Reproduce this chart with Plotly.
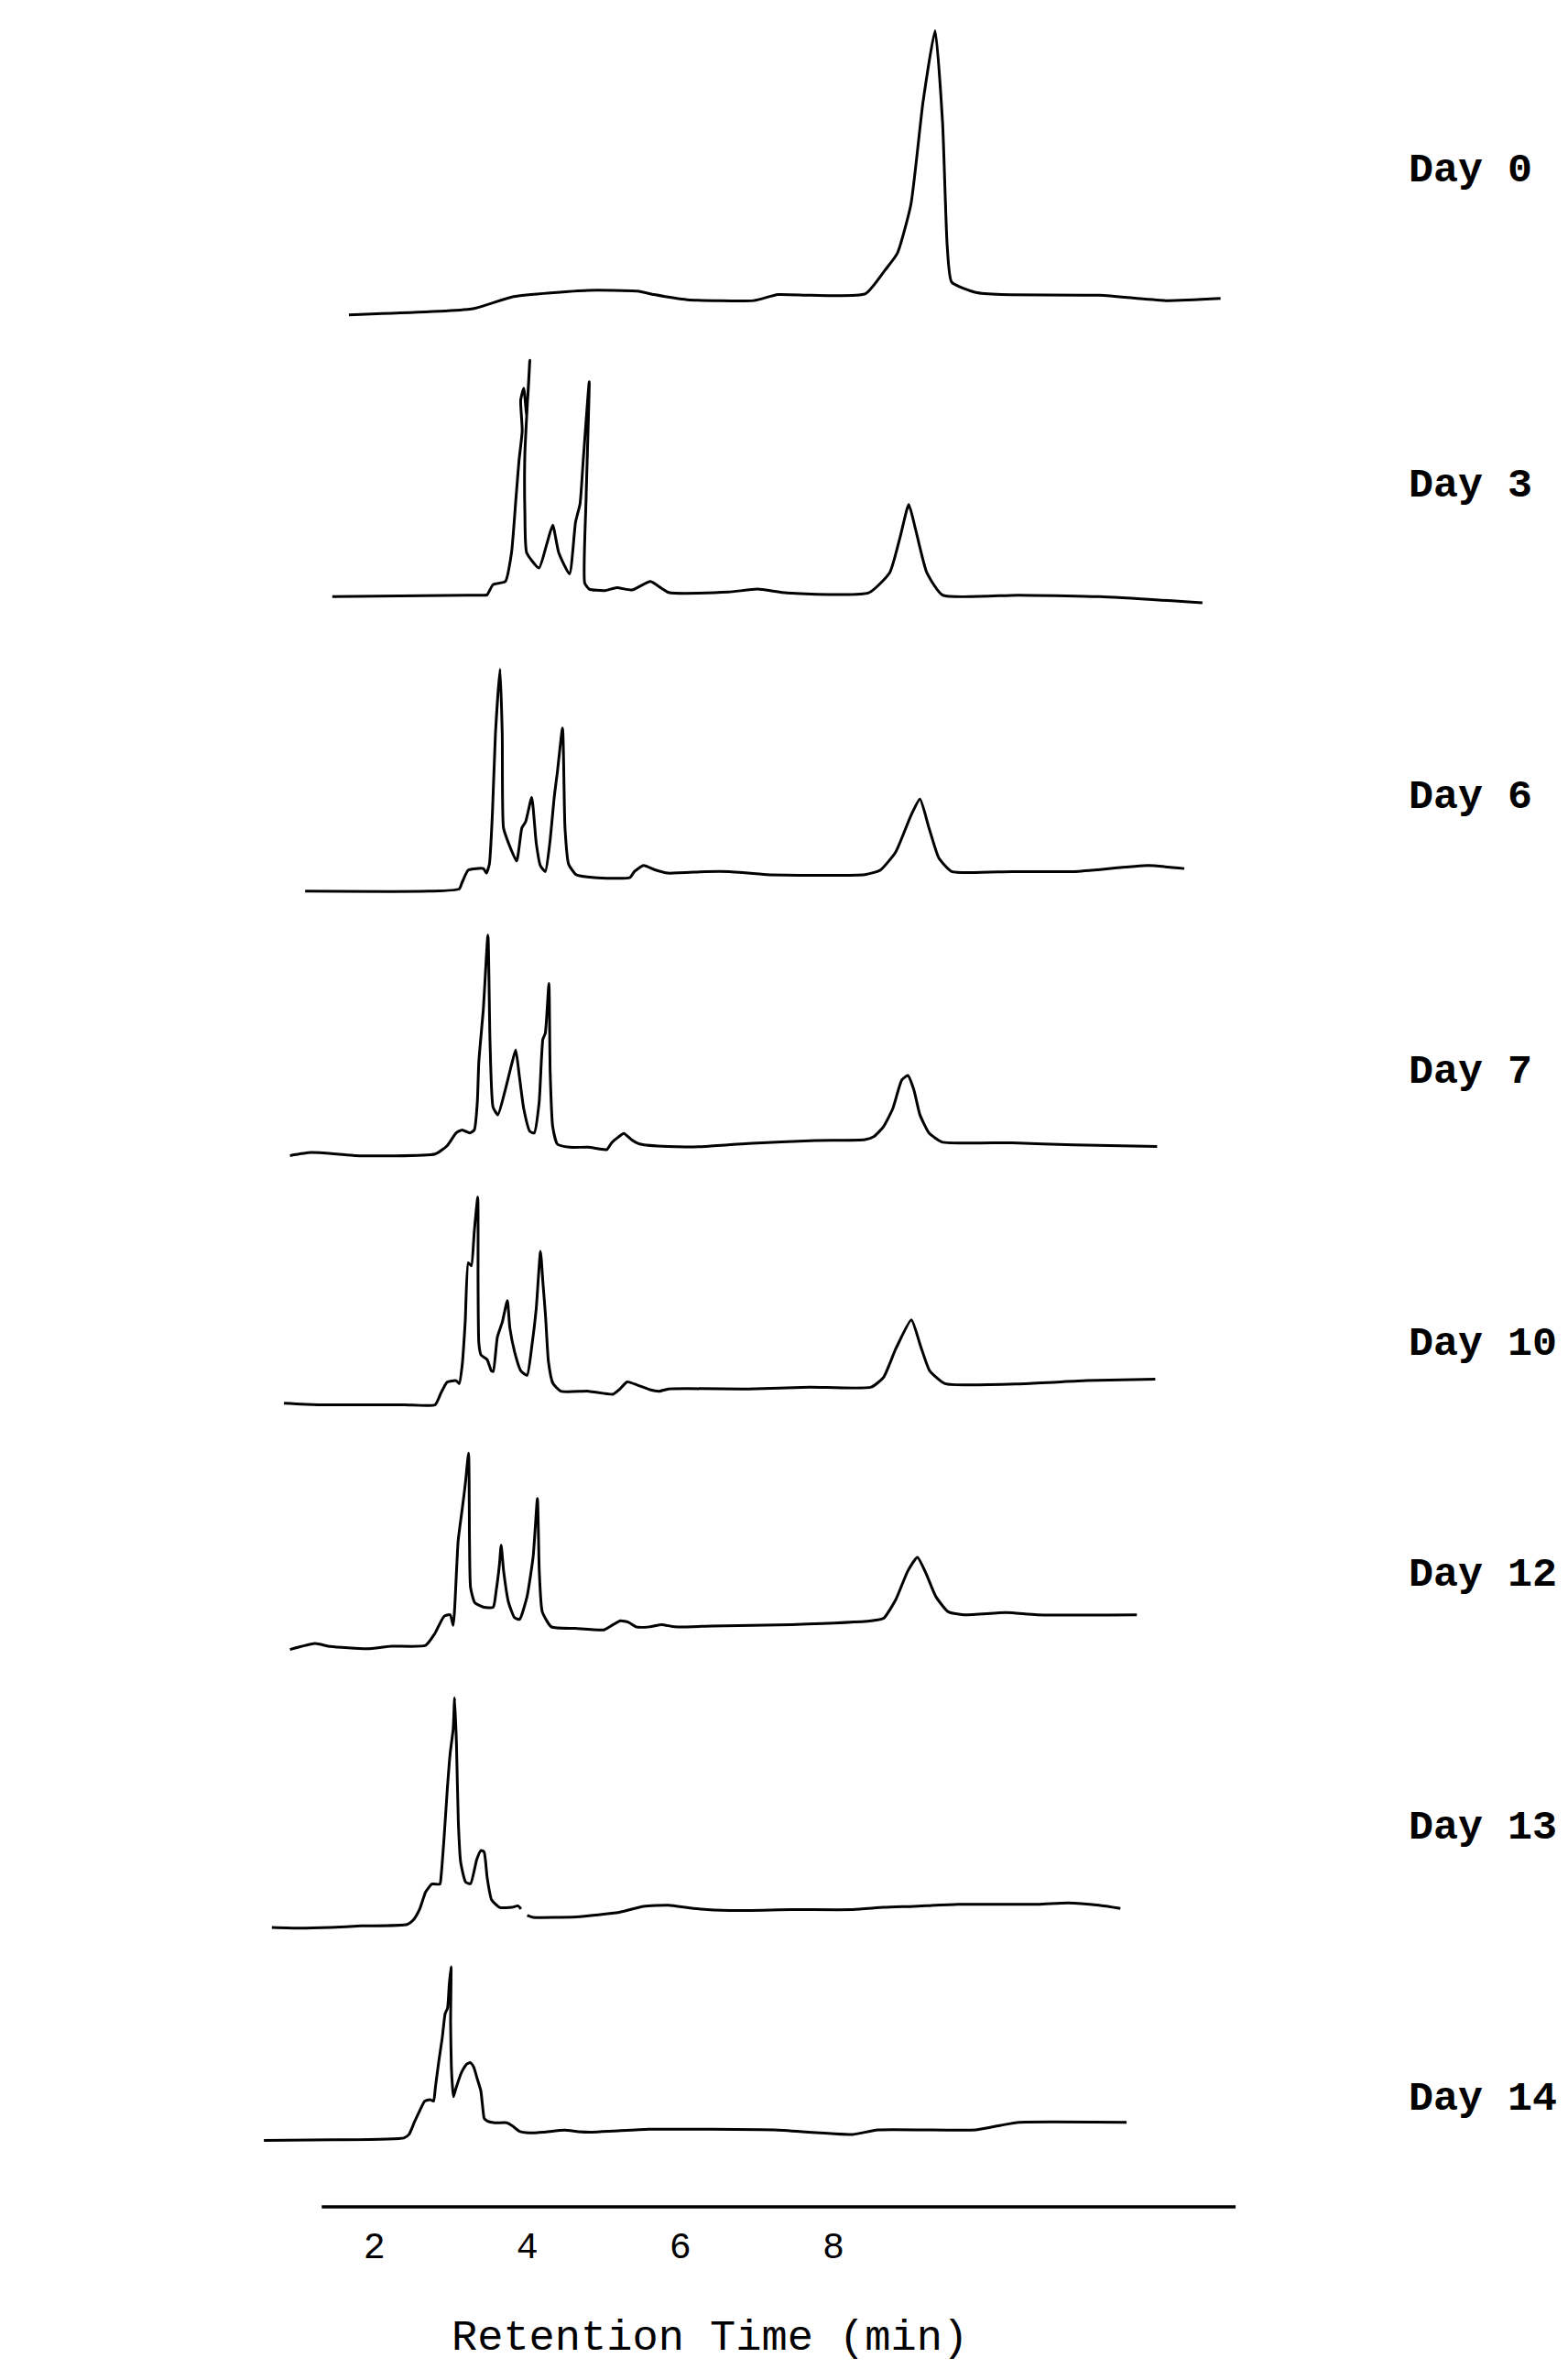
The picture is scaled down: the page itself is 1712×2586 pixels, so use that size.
import plotly.graph_objects as go

# ---------------- data (retention time in min, detector response in a.u.) ----------------
DAYS = ["Day 0", "Day 3", "Day 6", "Day 7", "Day 10", "Day 12", "Day 13", "Day 14"]

T_DAY0 = [1.668, 3.287, 3.820, 4.788, 5.439, 5.656, 6.091, 6.959, 7.275, 7.710, 8.420, 8.677,
          8.835, 9.013, 9.171, 9.329, 9.427, 9.487, 9.546, 9.862, 10.197, 11.481, 12.349, 13.060]
R_DAY0 = [0, 4.0, 12.1, 16.2, 15.7, 13.4, 10.0, 9.4, 13.4, 12.9, 14.0, 29.7,
          40.6, 73.0, 140.7, 188.1, 127.2, 46.0, 21.6, 14.8, 13.4, 12.9, 9.4, 10.8]

T_DAY3 = [1.451, 3.386, 3.473, 3.552, 3.712, 3.793, 3.852, 3.891, 3.933, 3.913, 3.953, 3.992,
          4.032, 3.968, 3.968, 3.992, 4.152, 4.255, 4.332, 4.411, 4.551, 4.630, 4.689, 4.730,
          4.809, 4.768, 4.750, 4.809, 5.009, 5.169, 5.368, 5.609, 5.848, 6.624, 7.009, 7.394,
          8.460, 8.737, 8.875, 8.985, 9.072, 9.220, 9.427, 10.414, 11.481, 12.823]
R_DAY3 = [0, 1, 1.2, 8, 10, 29, 65.5, 90, 110, 130, 138, 120,
          156.5, 95, 55, 29, 19, 35, 47.3, 29, 15, 49.3, 61.5, 90,
          142.3, 65, 9, 5, 4, 6, 4.4, 10, 2.8, 3, 5, 2.5,
          2.5, 16, 40, 61, 45, 16, 1, 1, 0, -4]

T_DAY6 = [1.096, 2.715, 3.110, 3.149, 3.228, 3.425, 3.465, 3.504, 3.544, 3.583, 3.643, 3.672,
          3.688, 3.753, 3.860, 3.929, 3.978, 4.057, 4.116, 4.170, 4.235, 4.294, 4.353, 4.393,
          4.460, 4.492, 4.539, 4.636, 4.877, 5.340, 5.399, 5.518, 5.676, 5.834, 6.328, 6.644,
          7.127, 8.413, 8.614, 8.815, 9.013, 9.131, 9.249, 9.378, 9.546, 10.335, 11.145, 12.112,
          12.586]
R_DAY6 = [0, 0, 1.5, 6, 14, 15, 12, 18, 52, 104, 147, 104,
          42, 32, 20, 42, 46, 62, 32, 17, 13, 32, 63, 79,
          108, 42, 18, 11, 9, 9, 13, 17, 14, 12, 13, 13,
          11, 11, 14, 26, 50, 61, 42, 22, 13, 13, 13, 17,
          15]

T_DAY7 = [0.898, 1.175, 1.510, 1.747, 2.794, 2.952, 3.070, 3.149, 3.248, 3.307, 3.346, 3.366,
          3.425, 3.485, 3.512, 3.552, 3.615, 3.712, 3.793, 3.848, 3.897, 3.953, 4.033, 4.091,
          4.154, 4.203, 4.235, 4.282, 4.298, 4.332, 4.393, 4.551, 4.798, 5.038, 5.102, 5.183,
          5.262, 5.360, 5.479, 5.834, 6.328, 6.881, 7.769, 8.413, 8.533, 8.653, 8.776, 8.894,
          8.973, 9.052, 9.131, 9.249, 9.417, 10.335, 11.145, 12.231]
R_DAY7 = [0, 2, 1, 0, 1, 6.5, 15, 17, 15, 17, 35, 62,
          97, 146, 76, 32, 27, 43.5, 60, 70, 52, 31, 16, 15,
          35, 77, 81, 114, 56, 19, 7.5, 5.5, 5.5, 4, 8.5, 12,
          14.7, 10.6, 7.5, 6, 6, 8, 10, 10.6, 12.7, 19, 31, 50,
          53, 43.5, 27, 15, 9, 8.5, 7, 6]

T_DAY10 = [0.819, 1.264, 2.389, 2.794, 2.873, 2.952, 3.070, 3.110, 3.149, 3.188, 3.228, 3.268,
           3.307, 3.352, 3.356, 3.366, 3.394, 3.473, 3.530, 3.554, 3.609, 3.674, 3.739, 3.771,
           3.834, 3.915, 3.996, 4.059, 4.116, 4.172, 4.205, 4.237, 4.276, 4.334, 4.438, 4.800,
           5.121, 5.200, 5.305, 5.441, 5.603, 5.723, 5.844, 6.888, 7.690, 8.495, 8.657, 8.815,
           9.019, 9.139, 9.259, 9.459, 10.503, 11.309, 12.207]
R_DAY10 = [0.5, -0.5, -0.5, -0.5, 7.5, 14.5, 15.5, 13.5, 26, 54.5, 93.5, 91.5,
           114.5, 137, 79.5, 40.5, 32.5, 29.5, 22, 21.5, 44.5, 54.5, 68.5, 50.5,
           34.5, 22, 19, 38.5, 63, 101, 79.5, 59, 28, 13.7, 8.5, 8.5,
           6.5, 9.5, 14.7, 12.5, 9.5, 8.5, 10, 10, 11.2, 11.2, 17.8, 36.5,
           55.8, 38.5, 22, 13.5, 13.5, 15.5, 16.5]

T_DAY12 = [0.898, 1.224, 1.423, 1.905, 2.221, 2.669, 2.790, 2.912, 2.991, 3.031, 3.050, 3.096,
           3.149, 3.188, 3.232, 3.244, 3.258, 3.313, 3.433, 3.554, 3.593, 3.635, 3.658, 3.690,
           3.755, 3.834, 3.899, 3.996, 4.077, 4.132, 4.156, 4.195, 4.314, 4.630, 5.001, 5.123,
           5.216, 5.321, 5.420, 5.597, 5.755, 5.925, 6.407, 7.453, 8.495, 8.657, 8.815, 8.973,
           9.098, 9.218, 9.339, 9.500, 9.704, 10.257, 10.665, 11.966]
R_DAY12 = [-0.5, 3.5, 1.5, 0, 1.7, 2.2, 10, 21.5, 22.5, 15.5, 26.5, 71.5,
           92.5, 108.5, 129.5, 71.5, 40.5, 30.5, 27.5, 27.5, 38.5, 55.5, 68.5, 51.5,
           30.5, 20.5, 19.5, 34.5, 61.5, 99.5, 51.5, 24.5, 14.5, 13.5, 12.5, 16,
           18.5, 17.5, 14.5, 14.5, 16, 14.5, 15, 16, 18.5, 20.2, 32.5, 51.5,
           60.5, 49, 34.5, 24.5, 22.5, 24, 22.5, 22.5]

T_DAY13 = [0.661, 1.017, 1.431, 1.826, 2.430, 2.511, 2.592, 2.671, 2.752, 2.857, 2.873, 2.912,
           2.952, 2.991, 3.031, 3.050, 3.074, 3.098, 3.129, 3.194, 3.258, 3.339, 3.396, 3.435,
           3.475, 3.532, 3.637, 3.797, 3.878, 3.917, None, 3.998, 4.077, 4.640, 5.202, 5.518,
           5.846, 6.170, 6.644, 7.453, 8.257, 8.657, 9.052, 9.625, 10.671, 11.066, 11.471, 11.751]
R_DAY13 = [0, -0.5, 0, 1, 2, 5, 12, 23.5, 28.7, 28.7, 34, 59.5,
           90, 115, 131.4, 152, 121, 70, 43, 30, 29, 45, 51, 50,
           33, 18.4, 13.3, 13.3, 14.3, 12.2, None, 8, 6.7, 7, 10, 14,
           14.7, 12.6, 11.2, 11.8, 11.8, 13.3, 14, 15.3, 15.3, 16.3, 14.7, 12.6]

T_DAY14 = [0.557, 1.471, 2.385, 2.454, 2.523, 2.592, 2.659, 2.728, 2.774, 2.798, 2.843, 2.888,
           2.926, 2.957, 2.979, 3.003, 2.997, 3.007, 3.021, 3.035, 3.070, 3.139, 3.208, 3.254,
           3.299, 3.344, 3.392, 3.414, 3.437, 3.483, 3.573, 3.733, 3.803, 3.893, 4.032, 4.213,
           4.488, 4.669, 4.847, 5.123, 5.585, 6.407, 7.230, 8.257, 8.578, 9.862, 10.185, 10.426,
           11.832]
R_DAY14 = [0, 0.4, 1.6, 4, 12, 19.5, 26, 27, 26, 35, 52.5, 68,
           84, 87.5, 103, 115, 78, 49, 36, 29, 35, 45, 50.6, 51.5,
           48.6, 41, 33, 23.3, 14.6, 12.7, 11.7, 11.7, 9.7, 6.2, 5, 5.5,
           6.8, 5.8, 5.5, 6.2, 7.4, 7.4, 7, 4, 7, 7, 10, 12,
           12]

TIMES = [T_DAY0, T_DAY3, T_DAY6, T_DAY7, T_DAY10, T_DAY12, T_DAY13, T_DAY14]
RESPONSES = [R_DAY0, R_DAY3, R_DAY6, R_DAY7, R_DAY10, R_DAY12, R_DAY13, R_DAY14]

TICK_VALS = [2, 4, 6, 8]
TICK_TEXT = ["2", "4", "6", "8"]
X_TITLE = "Retention Time (min)"

# ---------------- layout constants ----------------
OFFSETS = [1252.6, 1066, 871, 696, 531.5, 369.5, 185, 44]      # vertical stacking of traces
LABEL_Y = [1348, 1139, 933, 751, 571, 418, 251, 71]
LABEL_X = 15.49
X_RANGE = [-2.892, 17.601]
Y_RANGE = [-3, 1461]
AXIS_START, AXIS_END = 1.313, 13.257
FONT = "Liberation Mono, Courier New, monospace"

fig = go.Figure()
for name, t, r, off in zip(DAYS, TIMES, RESPONSES, OFFSETS):
    y = [None if v is None else off + v for v in r]
    fig.add_trace(go.Scatter(x=t, y=y, mode="lines", name=name, showlegend=False,
                             connectgaps=False, hoverinfo="skip",
                             line=dict(color="black", width=3, shape="spline", smoothing=0.5)))

for name, ly in zip(DAYS, LABEL_Y):
    fig.add_annotation(x=LABEL_X, y=ly, xref="x", yref="y", text="<b>" + name + "</b>",
                       showarrow=False, xanchor="left", yanchor="middle",
                       font=dict(family=FONT, size=45, color="black"))

fig.add_annotation(x=6.39, y=-0.0575, xref="x", yref="paper", text=X_TITLE,
                   showarrow=False, xanchor="center", yanchor="middle",
                   font=dict(family=FONT, size=47, color="black"))

fig.add_shape(type="line", xref="x", yref="y", x0=AXIS_START, x1=AXIS_END, y0=0, y1=0,
              line=dict(color="black", width=3.5))

fig.update_layout(
    width=1712, height=2586,
    margin=dict(l=0, r=0, t=0, b=172, pad=0),
    paper_bgcolor="white", plot_bgcolor="white",
    xaxis=dict(range=X_RANGE, showgrid=False, zeroline=False, showline=False,
               tickmode="array", tickvals=TICK_VALS, ticktext=TICK_TEXT, ticks="",
               ticklabelstandoff=10,
               tickfont=dict(family=FONT, size=40, color="black")),
    yaxis=dict(range=Y_RANGE, visible=False, showgrid=False, zeroline=False),
)

fig.write_html("out.html")
